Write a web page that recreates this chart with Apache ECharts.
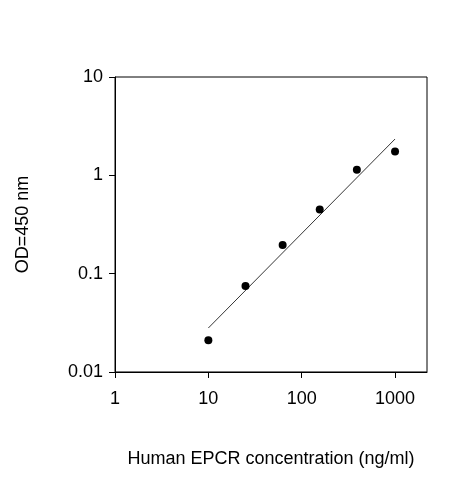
<!DOCTYPE html><html><head><script src="https://cdn.jsdelivr.net/npm/echarts@6/dist/echarts.min.js"></script></head><body style="margin:0"><div id="c" style="width:463px;height:480px"></div><script>
const conc=[10,25,62.5,156,390,1000];
const od=[0.021,0.075,0.196,0.45,1.14,1.75];
const fitX=[10,1000];
const fitY=[0.028,2.34];
const c=echarts.init(document.getElementById('c'));
const F='Arial, Liberation Sans, sans-serif';
const fmt=v=>String(+(+v).toPrecision(3));
c.setOption({animation:false,
grid:{left:108,right:36,top:77,bottom:95,show:true,borderColor:'#000',borderWidth:1},
xAxis:{type:'log',logBase:10,min:1,max:2200,name:'Human EPCR concentration (ng/ml)',nameLocation:'middle',nameGap:72,nameTextStyle:{fontSize:18,color:'#000',fontFamily:F},
axisLine:{lineStyle:{color:'#000'}},axisTick:{inside:false,length:6,lineStyle:{color:'#000'}},splitLine:{show:false},minorTick:{show:false},
axisLabel:{fontSize:18,color:'#000',fontFamily:F,margin:12,showMaxLabel:false,formatter:fmt}},
yAxis:{type:'log',logBase:10,min:0.01,max:10,name:'OD=450 nm',nameLocation:'middle',nameGap:76,nameTextStyle:{fontSize:18,color:'#000',fontFamily:F},
axisLine:{lineStyle:{color:'#000'}},axisTick:{length:6,lineStyle:{color:'#000'}},splitLine:{show:false},
axisLabel:{fontSize:18,color:'#000',fontFamily:F,margin:12,formatter:fmt}},
series:[{type:'line',data:fitX.map((x,i)=>[x,fitY[i]]),symbol:'none',lineStyle:{color:'#000',width:0.8}},
{type:'scatter',data:conc.map((x,i)=>[x,od[i]]),symbol:'circle',symbolSize:8,itemStyle:{color:'#000',opacity:1}}]});
</script></body></html>
